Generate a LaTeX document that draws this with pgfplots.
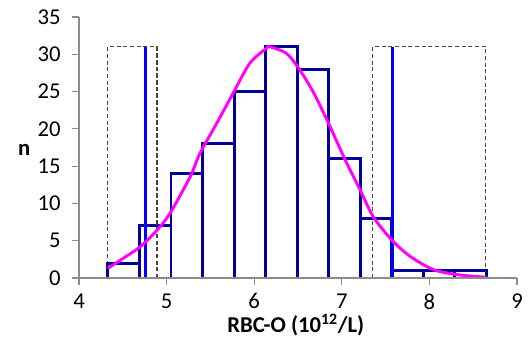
\documentclass[border=0pt]{standalone}
\usepackage{pgfplots}
\pgfplotsset{compat=1.18}
\usepackage{fontspec}
\setmainfont{Carlito}
\definecolor{navybar}{RGB}{0,0,150}
\definecolor{brightblue}{RGB}{0,0,255}
\definecolor{pinkcurve}{RGB}{255,0,255}
\definecolor{axgray}{RGB}{140,140,140}
\definecolor{dashgray}{RGB}{70,70,70}
\begin{document}
\begin{tikzpicture}
\begin{axis}[
  scale only axis,
  width=328.5pt, height=195.75pt,
  xmin=4, xmax=9, ymin=0, ymax=35,
  axis x line*=bottom, axis y line*=left,
  axis line style={axgray, line width=0.9pt},
  xtick={4,5,6,7,8,9},
  ytick={0,5,10,15,20,25,30,35},
  tick style={axgray, line width=0.9pt},
  tick align=outside,
  major tick length=5.25pt,
  font=\fontsize{17}{19}\selectfont,
  /pgf/number format/assume math mode=true,
  xticklabel style={yshift=-3pt},
  yticklabel style={xshift=-5pt},
  clip=false,
  axis on top,
  xlabel={\textbf{RBC-O (10\textsuperscript{12}/L)}},
  ylabel={\textbf{n}},
  xlabel style={at={(rel axis cs:0.495,-0.18)}, anchor=center},
  ylabel style={at={(rel axis cs:-0.125,0.49)}, anchor=center, rotate=-90},
]
% invisible bounding path
\path (rel axis cs:-0.1804,-0.249) rectangle (rel axis cs:1.0297,1.0651);
% dashed reference boxes
\addplot[dashgray, densely dashed, line width=0.8pt] coordinates {(4.33,0) (4.33,31) (4.89,31) (4.89,0)};
\addplot[dashgray, densely dashed, line width=0.8pt] coordinates {(7.355,0) (7.355,31) (8.645,31) (8.645,0)};
% histogram
\addplot[ybar interval, draw=navybar, fill=white, line width=2.2pt] coordinates {
(4.33,2) (4.69,7) (5.05,14) (5.41,18) (5.77,25) (6.13,31) (6.49,28) (6.85,16) (7.21,8) (7.57,1) (7.93,1) (8.29,1) (8.65,1)};
% dashed box edges visible above bars
\addplot[dashgray, densely dashed, line width=0.8pt] coordinates {(4.89,0) (4.89,31)};
\addplot[dashgray, densely dashed, line width=0.8pt] coordinates {(7.355,0) (7.355,31)};
% vertical limit lines
\addplot[brightblue, line width=2.2pt] coordinates {(4.755,0) (4.755,31)};
\addplot[brightblue, line width=2.2pt] coordinates {(7.575,0) (7.575,31)};
% fitted curve
\addplot[pinkcurve, line width=2.2pt, smooth] coordinates {
(4.33,1.3) (4.50,2.6) (4.70,4.2) (4.89,6.4) (5.04,8.7) (5.27,13.6) (5.38,16.7) (5.57,20.7) (5.76,24.8) (5.95,28.8) (6.14,30.8) (6.18,31.0) (6.37,30.1) (6.52,27.9) (6.68,24.8) (6.85,20.7) (7.04,15.8) (7.21,11.8) (7.36,8.2) (7.57,5.1) (7.78,2.9) (8.05,1.1) (8.35,0.4) (8.65,0.1)};
\end{axis}
\end{tikzpicture}
\end{document}
